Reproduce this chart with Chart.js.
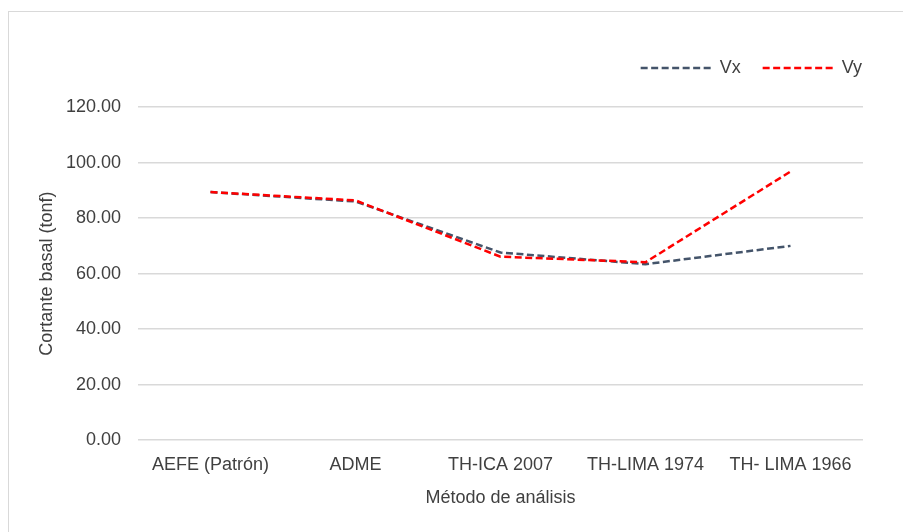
<!DOCTYPE html>
<html>
<head>
<meta charset="utf-8">
<script src="https://cdn.jsdelivr.net/npm/chart.js@4/dist/chart.umd.min.js"></script>
<style>
  body { margin: 0; background: #fff; }
  #frame { position: absolute; left: 8px; top: 11px; width: 920px; height: 560px; border: 1px solid #d9d9d9; }
  #chart { position: absolute; left: 0; top: 0; }
</style>
</head>
<body>
<div id="frame"></div>
<canvas id="chart" width="903" height="532"></canvas>
<script>
// Categories (x axis)
var metodos = ['AEFE (Patrón)', 'ADME', 'TH-ICA 2007', 'TH-LIMA 1974', 'TH- LIMA 1966'];

// Basal shear values (tonf)
var cortanteVx = [89.4, 86.0, 67.6, 63.4, 70.0];
var cortanteVy = [89.4, 86.4, 66.1, 64.1, 96.8];

// Y axis ticks
var yMin = 0;
var yMax = 120;
var yStep = 20;

var textColor = '#404040';
var fontFamily = '"Liberation Sans", Arial, sans-serif';

Chart.defaults.font.family = fontFamily;
Chart.defaults.font.size = 18;
Chart.defaults.color = textColor;

var ctx = document.getElementById('chart').getContext('2d');
var chart = new Chart(ctx, {
    type: 'line',
    data: {
        labels: metodos,
        datasets: [{
            label: 'Vx',
            data: cortanteVx,
            borderColor: '#44546a',
            backgroundColor: '#44546a',
            borderWidth: 2.5,
            borderDash: [7, 3.5],
            borderCapStyle: 'butt',
            pointRadius: 0,
            tension: 0,
            fill: false,
            order: 1
        }, {
            label: 'Vy',
            data: cortanteVy,
            borderColor: '#ff0000',
            backgroundColor: '#ff0000',
            borderWidth: 2.5,
            borderDash: [7, 3.5],
            borderCapStyle: 'butt',
            pointRadius: 0,
            tension: 0,
            fill: false,
            order: 0
        }]
    },
    options: {
        responsive: false,
        animation: false,
        layout: {
            padding: { left: 0, right: 19, top: 37, bottom: 0 }
        },
        plugins: {
            legend: {
                position: 'top',
                align: 'end',
                labels: {
                    usePointStyle: true,
                    pointStyle: 'line',
                    pointStyleWidth: 70,
                    padding: 22,
                    color: textColor,
                    font: { size: 18 },
                    sort: function(a, b) { return a.datasetIndex - b.datasetIndex; },
                    generateLabels: function(chart) {
                        var items = Chart.defaults.plugins.legend.labels.generateLabels(chart);
                        items.forEach(function(item) {
                            var ds = chart.data.datasets[item.datasetIndex];
                            item.lineDash = ds.borderDash;
                            item.lineWidth = ds.borderWidth;
                            item.strokeStyle = ds.borderColor;
                        });
                        return items;
                    }
                }
            },
            // empty title used as a spacer between the legend and the plot
            title: {
                display: true,
                text: '',
                weight: 500,
                font: { size: 1 },
                padding: { top: 19, bottom: 0 }
            },
            tooltip: { enabled: false }
        },
        scales: {
            x: {
                offset: true,
                grid: { display: false, offset: true },
                border: { display: false },
                ticks: { padding: 6, color: textColor, maxRotation: 0, autoSkip: false },
                title: {
                    display: true,
                    text: 'Método de análisis',
                    color: textColor,
                    padding: { top: 0, bottom: 23 }
                },
                afterFit: function(scale) { scale.height = 92; }
            },
            y: {
                min: yMin,
                max: yMax,
                grid: { color: '#d9d9d9', lineWidth: 1.5, drawTicks: false },
                border: { display: false },
                ticks: {
                    stepSize: yStep,
                    padding: 17,
                    color: textColor,
                    callback: function(value) { return value.toFixed(2); }
                },
                title: {
                    display: true,
                    text: 'Cortante basal (tonf)',
                    color: textColor,
                    padding: { top: 36, bottom: 0 }
                },
                afterFit: function(scale) { scale.width = 138; }
            },
            // invisible spacer axis on the right so the legend reaches further right than the plot
            yRight: {
                position: 'right',
                display: true,
                grid: { display: false },
                border: { display: false },
                ticks: { display: false },
                afterFit: function(scale) { scale.width = 21; }
            }
        }
    }
});
</script>
</body>
</html>
